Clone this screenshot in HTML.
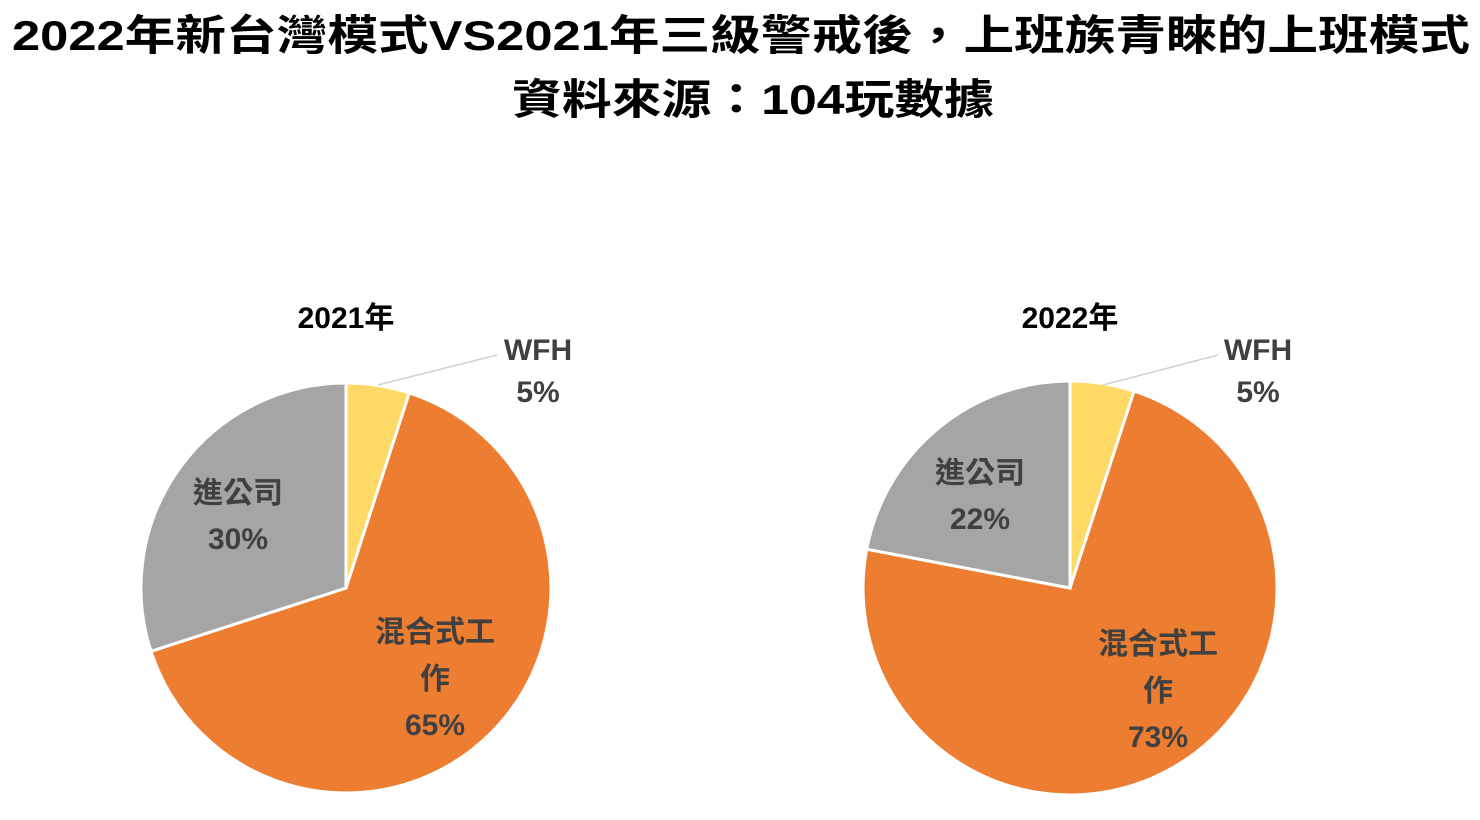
<!DOCTYPE html>
<html><head><meta charset="utf-8"><style>
html,body{margin:0;padding:0;background:#fff;width:1480px;height:820px;overflow:hidden}
svg{display:block}
text{font-family:"Liberation Sans","Noto Sans CJK TC","Noto Sans CJK SC",sans-serif}
</style></head><body>
<svg width="1480" height="820" viewBox="0 0 1480 820">
<text x="12" y="50" font-size="42" font-weight="bold" fill="#000" textLength="1458" lengthAdjust="spacingAndGlyphs">2022年新台灣模式VS2021年三級警戒後，上班族青睞的上班模式</text>
<text x="512" y="114" font-size="42" font-weight="bold" fill="#000" textLength="482" lengthAdjust="spacingAndGlyphs">資料來源：104玩數據</text>

<!-- Pie 1 -->
<g stroke="#fff" stroke-width="3">
<path d="M346,588 L346,383 A205,205 0 0 1 409.3,393 Z" fill="#FFD966"/>
<path d="M346,588 L409.3,393 A205,205 0 1 1 151,651.3 Z" fill="#ED7D31"/>
<path d="M346,588 L151,651.3 A205,205 0 0 1 346,383 Z" fill="#A5A5A5"/>
</g>
<line x1="378" y1="385" x2="497" y2="355" stroke="#d0d0d0" stroke-width="1.5"/>
<g font-weight="bold" fill="#404040" text-anchor="middle" font-size="30">
<text x="346" y="328" fill="#000" font-size="30">2021年</text>
<text x="538" y="360">WFH</text>
<text x="538" y="402">5%</text>
<text x="238" y="503">進公司</text>
<text x="238" y="549">30%</text>
<text x="435" y="642">混合式工</text>
<text x="435" y="689">作</text>
<text x="435" y="735">65%</text>
</g>

<!-- Pie 2 -->
<g stroke="#fff" stroke-width="3">
<path d="M1070,588 L1070,381 A207,207 0 0 1 1134,391.1 Z" fill="#FFD966"/>
<path d="M1070,588 L1134,391.1 A207,207 0 1 1 866.7,549.2 Z" fill="#ED7D31"/>
<path d="M1070,588 L866.7,549.2 A207,207 0 0 1 1070,381 Z" fill="#A5A5A5"/>
</g>
<line x1="1103" y1="385" x2="1218" y2="355" stroke="#d0d0d0" stroke-width="1.5"/>
<g font-weight="bold" fill="#404040" text-anchor="middle" font-size="30">
<text x="1070" y="328" fill="#000">2022年</text>
<text x="1258" y="360">WFH</text>
<text x="1258" y="402">5%</text>
<text x="980" y="483">進公司</text>
<text x="980" y="529">22%</text>
<text x="1158" y="654">混合式工</text>
<text x="1158" y="701">作</text>
<text x="1158" y="747">73%</text>
</g>
</svg>
</body></html>
